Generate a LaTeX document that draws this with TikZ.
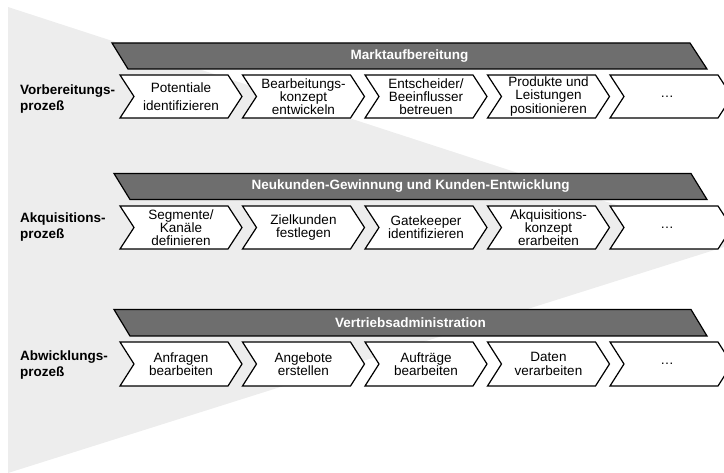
\documentclass[tikz,border=0pt]{standalone}
\usepackage{fontspec}
\setmainfont{Liberation Sans}
\usepackage{tikz}
\definecolor{bggray}{HTML}{EDEDED}
\definecolor{bargray}{HTML}{6E6E6E}
\begin{document}
\begin{tikzpicture}[x=1pt,y=-1pt,line join=miter,
  barline/.style={draw=black,line width=1.2pt,fill=bargray},
  bartext/.style={inner sep=0pt,text=white,font=\fontsize{13.5}{14}\selectfont\bfseries},
  stageline/.style={draw=black,line width=1.2pt,fill=white},
  stagetext/.style={inner sep=0pt,align=center,font=\fontsize{13.5}{13.3}\selectfont},
  rowlabel/.style={anchor=west,align=left,inner sep=0pt,font=\fontsize{13.5}{16}\selectfont\bfseries}]
\clip (0,0) rectangle (724,473);
\fill[bggray] (8,7) -- (724,240) -- (724,247) -- (8,473) -- cycle;
\draw[barline] (112,43) -- (690,43) -- (707,69) -- (128,69) -- cycle;
\node[bartext] (prepbar) at (409.5,56) {Marktaufbereitung};
\node[rowlabel] (preplab) at (20,99) {Vorbereitungs-\\prozeß};
\draw[stageline] (120,75) -- ++(108,0) -- ++(14,21.5) -- ++(-14,21.5) -- ++(-108,0) -- ++(14,-21.5) -- cycle;
\node[stagetext] (prep1) at (181,96.5) {Potentiale\\[4.5pt]identifizieren};
\draw[stageline] (242.5,75) -- ++(108,0) -- ++(14,21.5) -- ++(-14,21.5) -- ++(-108,0) -- ++(14,-21.5) -- cycle;
\node[stagetext] (prep2) at (303.5,96.5) {Bearbeitungs-\\konzept\\entwickeln};
\draw[stageline] (365,75) -- ++(108,0) -- ++(14,21.5) -- ++(-14,21.5) -- ++(-108,0) -- ++(14,-21.5) -- cycle;
\node[stagetext] (prep3) at (426,96.5) {Entscheider/\\Beeinflusser\\betreuen};
\draw[stageline] (487.5,75) -- ++(108,0) -- ++(14,21.5) -- ++(-14,21.5) -- ++(-108,0) -- ++(14,-21.5) -- cycle;
\node[stagetext] (prep4) at (548.5,96.5) {Produkte und\\Leistungen\\positionieren};
\draw[stageline] (610,75) -- ++(108,0) -- ++(14,21.5) -- ++(-14,21.5) -- ++(-108,0) -- ++(14,-21.5) -- cycle;
\node[stagetext] (prep5) at (667,96.5) {\ldots};
\draw[barline] (114,173.5) -- (691,173.5) -- (707,199.5) -- (130,199.5) -- cycle;
\node[bartext] (acqbar) at (410.5,186.5) {Neukunden-Gewinnung und Kunden-Entwicklung};
\node[rowlabel] (acqlab) at (20,227) {Akquisitions-\\prozeß};
\draw[stageline] (120,206) -- ++(108,0) -- ++(14,21.5) -- ++(-14,21.5) -- ++(-108,0) -- ++(14,-21.5) -- cycle;
\node[stagetext] (acq1) at (181,227.5) {Segmente/\\Kanäle\\definieren};
\draw[stageline] (242.5,206) -- ++(108,0) -- ++(14,21.5) -- ++(-14,21.5) -- ++(-108,0) -- ++(14,-21.5) -- cycle;
\node[stagetext] (acq2) at (303.5,227.5) {Zielkunden\\festlegen};
\draw[stageline] (365,206) -- ++(108,0) -- ++(14,21.5) -- ++(-14,21.5) -- ++(-108,0) -- ++(14,-21.5) -- cycle;
\node[stagetext] (acq3) at (426,227.5) {Gatekeeper\\identifizieren};
\draw[stageline] (487.5,206) -- ++(108,0) -- ++(14,21.5) -- ++(-14,21.5) -- ++(-108,0) -- ++(14,-21.5) -- cycle;
\node[stagetext] (acq4) at (548.5,227.5) {Akquisitions-\\konzept\\erarbeiten};
\draw[stageline] (610,206) -- ++(108,0) -- ++(14,21.5) -- ++(-14,21.5) -- ++(-108,0) -- ++(14,-21.5) -- cycle;
\node[stagetext] (acq5) at (667,227.5) {\ldots};
\draw[barline] (114,309.5) -- (691,309.5) -- (707,336) -- (130,336) -- cycle;
\node[bartext] (procbar) at (410.5,323) {Vertriebsadministration};
\node[rowlabel] (proclab) at (20,365) {Abwicklungs-\\prozeß};
\draw[stageline] (120,342) -- ++(108,0) -- ++(14,22) -- ++(-14,22) -- ++(-108,0) -- ++(14,-22) -- cycle;
\node[stagetext] (proc1) at (181,364) {Anfragen\\bearbeiten};
\draw[stageline] (242.5,342) -- ++(108,0) -- ++(14,22) -- ++(-14,22) -- ++(-108,0) -- ++(14,-22) -- cycle;
\node[stagetext] (proc2) at (303.5,364) {Angebote\\erstellen};
\draw[stageline] (365,342) -- ++(108,0) -- ++(14,22) -- ++(-14,22) -- ++(-108,0) -- ++(14,-22) -- cycle;
\node[stagetext] (proc3) at (426,364) {Aufträge\\bearbeiten};
\draw[stageline] (487.5,342) -- ++(108,0) -- ++(14,22) -- ++(-14,22) -- ++(-108,0) -- ++(14,-22) -- cycle;
\node[stagetext] (proc4) at (548.5,364) {Daten\\verarbeiten};
\draw[stageline] (610,342) -- ++(108,0) -- ++(14,22) -- ++(-14,22) -- ++(-108,0) -- ++(14,-22) -- cycle;
\node[stagetext] (proc5) at (667,364) {\ldots};
\end{tikzpicture}
\end{document}
